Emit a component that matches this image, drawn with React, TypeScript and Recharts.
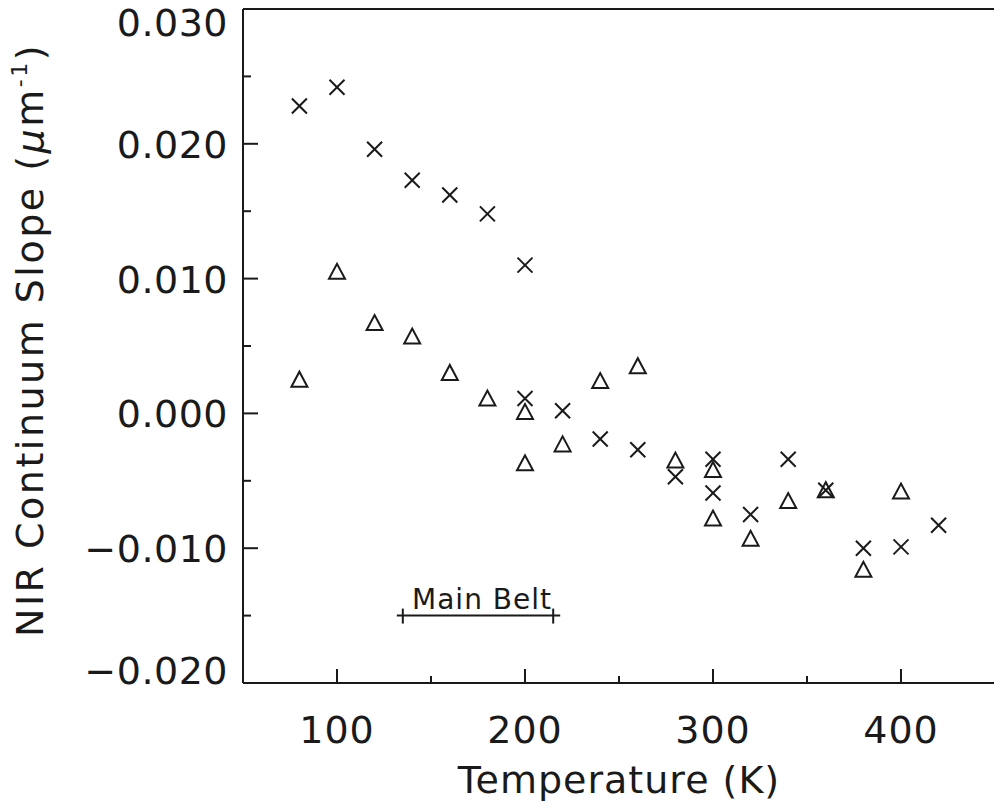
import React from 'react';
import { ScatterChart, Scatter, XAxis, YAxis, ReferenceLine, Label } from 'recharts';

const CROSS_TEMP = [80, 100, 120, 140, 160, 180, 200, 200, 220, 240, 260, 280, 300, 300, 320, 340, 360, 380, 400, 420];
const CROSS_SLOPE = [0.0228, 0.0242, 0.0196, 0.0173, 0.0162, 0.0148, 0.011, 0.0011, 0.0002, -0.0019, -0.0027, -0.0047, -0.0034, -0.0059, -0.0075, -0.0034, -0.0057, -0.01, -0.0099, -0.0083];

const TRI_TEMP = [80, 100, 120, 140, 160, 180, 200, 200, 220, 240, 260, 280, 300, 300, 320, 340, 360, 380, 400];
const TRI_SLOPE = [0.0025, 0.0105, 0.0067, 0.0057, 0.003, 0.0011, 0.0001, -0.0037, -0.0023, 0.0024, 0.0035, -0.0035, -0.0042, -0.0078, -0.0093, -0.0065, -0.0057, -0.0116, -0.0058];

const X_TICKS = [100, 150, 200, 250, 300, 350, 400];
const Y_TICKS = [-0.02, -0.015, -0.01, -0.005, 0, 0.005, 0.01, 0.015, 0.02, 0.025, 0.03];

const MAIN_BELT_TEMP = [135, 215];
const MAIN_BELT_SLOPE = -0.015;

const INK = '#1a1a1a';
const FONT = '"DejaVu Sans", sans-serif';

const crosses = CROSS_TEMP.map((t, i) => ({ t, v: CROSS_SLOPE[i] }));
const triangles = TRI_TEMP.map((t, i) => ({ t, v: TRI_SLOPE[i] }));

const isMajorX = (v: number) => v % 100 === 0;
const isMajorY = (v: number) => Math.round(v * 1000) % 10 === 0;

const fmtY = (v: number) => {
  const s = Math.abs(v).toFixed(3);
  return v < 0 ? '\u2212' + s : s;
};

const BottomTick = (props: any) => {
  const { x, y, payload } = props;
  const major = isMajorX(payload.value);
  return (
    <g>
      <line x1={x} y1={y} x2={x} y2={y - (major ? 14 : 7)} stroke={INK} strokeWidth={2} />
      {major && (
        <text x={x} y={y + 60} textAnchor="middle" fontSize={38} fontFamily={FONT} fill={INK} letterSpacing={1}>
          {payload.value}
        </text>
      )}
    </g>
  );
};

const TopTick = (props: any) => {
  const { x, y, payload } = props;
  return <line x1={x} y1={y} x2={x} y2={y + (isMajorX(payload.value) ? 12 : 6)} stroke={INK} strokeWidth={2} />;
};

const LeftTick = (props: any) => {
  const { x, y, payload } = props;
  const major = isMajorY(payload.value);
  // outermost labels sit pulled in toward the plot, as in the original
  let shift = 0;
  if (payload.value >= 0.03) shift = 13;
  if (payload.value <= -0.02) shift = -13;
  return (
    <g>
      <line x1={x} y1={y} x2={x + (major ? 15 : 8)} y2={y} stroke={INK} strokeWidth={2} />
      {major && (
        <text x={x - 15} y={y + shift + 14} textAnchor="end" fontSize={38} fontFamily={FONT} fill={INK} letterSpacing={0.5}>
          {fmtY(payload.value)}
        </text>
      )}
    </g>
  );
};

const RightTick = (props: any) => {
  const { x, y, payload } = props;
  return <line x1={x} y1={y} x2={x - (isMajorY(payload.value) ? 12 : 6)} y2={y} stroke={INK} strokeWidth={2} />;
};

const Cross = (props: any) => {
  const { cx, cy } = props;
  const r = 7.5;
  return (
    <g stroke={INK} strokeWidth={2}>
      <line x1={cx - r} y1={cy - r} x2={cx + r} y2={cy + r} />
      <line x1={cx - r} y1={cy + r} x2={cx + r} y2={cy - r} />
    </g>
  );
};

const Triangle = (props: any) => {
  const { cx, cy } = props;
  return (
    <path
      d={`M${cx - 8},${cy + 7} L${cx + 8},${cy + 7} L${cx},${cy - 8} Z`}
      fill="none"
      stroke={INK}
      strokeWidth={2}
      strokeLinejoin="miter"
    />
  );
};

const BeltBar = (props: any) => {
  const { x1, y1, x2 } = props;
  return (
    <g>
      <line x1={x1 - 6} y1={y1} x2={x2 + 7} y2={y1} stroke={INK} strokeWidth={2} />
      <line x1={x1} y1={y1 - 7} x2={x1} y2={y1 + 8} stroke={INK} strokeWidth={2} />
      <line x1={x2} y1={y1 - 7} x2={x2} y2={y1 + 8} stroke={INK} strokeWidth={2} />
      <text x={(x1 + x2) / 2 + 4} y={y1 - 7} textAnchor="middle" fontSize={28} fontFamily={FONT} fill={INK} letterSpacing={1}>
        Main Belt
      </text>
    </g>
  );
};

const XTitle = (props: any) => {
  const { viewBox } = props;
  const cx = viewBox.x + viewBox.width / 2;
  return (
    <text x={cx} y={793} textAnchor="middle" fontSize={38} fontFamily={FONT} fill={INK} letterSpacing={1}>
      Temperature (K)
    </text>
  );
};

const YTitle = () => (
  <text
    x={43}
    y={340}
    transform="rotate(-90, 43, 340)"
    textAnchor="middle"
    fontSize={38}
    fontFamily={FONT}
    fill={INK}
    letterSpacing={2.5}
  >
    NIR Continuum Slope (<tspan fontStyle="italic">{'\u03bc'}</tspan>m
    <tspan fontSize={22} dy={-16}>-1</tspan>
    <tspan dy={16}>)</tspan>
  </text>
);

export default function App() {
  return (
    <div style={{ position: 'absolute', left: 0, top: 0, width: 994, height: 805, overflow: 'hidden', background: '#fff' }}>
      <ScatterChart width={1000} height={805} margin={{ top: 8, right: 4, bottom: 0, left: 0 }}>
        <XAxis
          xAxisId="bottom"
          dataKey="t"
          type="number"
          domain={[50, 450]}
          ticks={X_TICKS}
          height={122}
          tickSize={0}
          tickMargin={0}
          tickLine={false}
          tick={<BottomTick />}
          axisLine={{ stroke: INK, strokeWidth: 2 }}
          interval={0}
        >
          <Label content={<XTitle />} />
        </XAxis>
        <XAxis
          xAxisId="top"
          orientation="top"
          dataKey="t"
          type="number"
          domain={[50, 450]}
          ticks={X_TICKS}
          height={1}
          tickSize={0}
          tickMargin={0}
          tickLine={false}
          tick={<TopTick />}
          axisLine={{ stroke: INK, strokeWidth: 2 }}
          interval={0}
        />
        <YAxis
          yAxisId="left"
          dataKey="v"
          type="number"
          domain={[-0.02, 0.03]}
          ticks={Y_TICKS}
          width={243}
          tickSize={0}
          tickMargin={0}
          tickLine={false}
          tick={<LeftTick />}
          axisLine={{ stroke: INK, strokeWidth: 2 }}
          interval={0}
        >
          <Label content={<YTitle />} />
        </YAxis>
        <YAxis
          yAxisId="right"
          orientation="right"
          dataKey="v"
          type="number"
          domain={[-0.02, 0.03]}
          ticks={Y_TICKS}
          width={1}
          tickSize={0}
          tickMargin={0}
          tickLine={false}
          tick={<RightTick />}
          axisLine={{ stroke: INK, strokeWidth: 2 }}
          interval={0}
        />
        <ReferenceLine
          xAxisId="bottom"
          yAxisId="left"
          segment={[
            { x: MAIN_BELT_TEMP[0], y: MAIN_BELT_SLOPE },
            { x: MAIN_BELT_TEMP[1], y: MAIN_BELT_SLOPE },
          ]}
          shape={BeltBar}
        />
        <Scatter xAxisId="bottom" yAxisId="left" data={triangles} shape={Triangle} isAnimationActive={false} />
        <Scatter xAxisId="bottom" yAxisId="left" data={crosses} shape={Cross} isAnimationActive={false} />
      </ScatterChart>
    </div>
  );
}
